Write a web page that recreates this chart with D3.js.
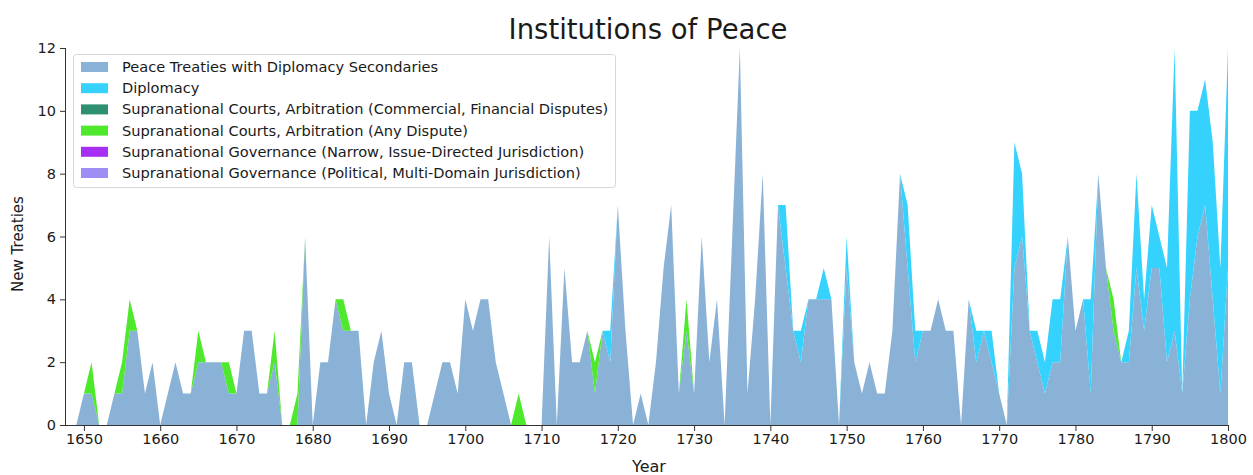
<!DOCTYPE html>
<html>
<head>
<meta charset="utf-8">
<script src="https://cdn.jsdelivr.net/npm/d3@7"></script>
<style>
  html, body { margin: 0; padding: 0; background: #ffffff; }
  svg { display: block; font-family: "DejaVu Sans", sans-serif; }
</style>
</head>
<body>
<svg id="chart" width="1253" height="475"></svg>
<script>
// Institutions of Peace: new treaties per year, 1649-1800, stacked by type.
const firstYear = 1649;

// Peace treaties carrying diplomacy as a secondary institution
const peace = [
  0,
  1, 1, 0, 0, 1, 1, 3, 3, 1, 2,   // 1650s
  0, 1, 2, 1, 1, 2, 2, 2, 2, 1,   // 1660s
  1, 3, 3, 1, 1, 2, 0, 0, 0, 6,   // 1670s
  0, 2, 2, 4, 3, 3, 3, 0, 2, 3,   // 1680s
  1, 0, 2, 2, 0, 0, 1, 2, 2, 1,   // 1690s
  4, 3, 4, 4, 2, 1, 0, 0, 0, 0,   // 1700s
  0, 6, 0, 5, 2, 2, 3, 1, 3, 2,   // 1710s
  7, 3, 0, 1, 0, 2, 5, 7, 1, 3,   // 1720s
  1, 6, 2, 4, 0, 6, 12, 1, 4, 8,  // 1730s
  0, 7, 5, 3, 2, 4, 4, 4, 4, 0,   // 1740s
  5, 2, 1, 2, 1, 1, 3, 8, 5, 2,   // 1750s
  3, 3, 4, 3, 3, 0, 4, 2, 3, 2,   // 1760s
  1, 0, 5, 6, 3, 2, 1, 2, 2, 6,   // 1770s
  3, 4, 1, 8, 5, 3, 2, 2, 5, 3,   // 1780s
  5, 5, 2, 3, 1, 4, 6, 7, 4, 1,   // 1790s
  5
];

const diplomacy = [
  0,
  0, 0, 0, 0, 0, 0, 0, 0, 0, 0,
  0, 0, 0, 0, 0, 0, 0, 0, 0, 0,
  0, 0, 0, 0, 0, 0, 0, 0, 0, 0,
  0, 0, 0, 0, 0, 0, 0, 0, 0, 0,
  0, 0, 0, 0, 0, 0, 0, 0, 0, 0,
  0, 0, 0, 0, 0, 0, 0, 0, 0, 0,
  0, 0, 0, 0, 0, 0, 0, 0, 0, 1,
  0, 0, 0, 0, 0, 0, 0, 0, 0, 0,
  0, 0, 0, 0, 0, 0, 0, 0, 0, 0,
  0, 0, 2, 0, 1, 0, 0, 1, 0, 0,
  1, 0, 0, 0, 0, 0, 0, 0, 2, 1,
  0, 0, 0, 0, 0, 0, 0, 1, 0, 1,
  0, 0, 4, 2, 0, 1, 1, 2, 2, 0,
  0, 0, 3, 0, 0, 0, 0, 1, 3, 1,
  2, 1, 3, 9, 0, 6, 4, 4, 5, 4,
  7
];

const courtsCommercial = [
  0,
  0, 0, 0, 0, 0, 0, 0, 0, 0, 0,
  0, 0, 0, 0, 0, 0, 0, 0, 0, 0,
  0, 0, 0, 0, 0, 0, 0, 0, 0, 0,
  0, 0, 0, 0, 0, 0, 0, 0, 0, 0,
  0, 0, 0, 0, 0, 0, 0, 0, 0, 0,
  0, 0, 0, 0, 0, 0, 0, 0, 0, 0,
  0, 0, 0, 0, 0, 0, 0, 0, 0, 0,
  0, 0, 0, 0, 0, 0, 0, 0, 0, 0,
  0, 0, 0, 0, 0, 0, 0, 0, 0, 0,
  0, 0, 0, 0, 0, 0, 0, 0, 0, 0,
  0, 0, 0, 0, 0, 0, 0, 0, 0, 0,
  0, 0, 0, 0, 0, 0, 0, 0, 0, 0,
  0, 0, 0, 0, 0, 0, 0, 0, 0, 0,
  0, 0, 0, 0, 0, 0, 0, 0, 0, 0,
  0, 0, 0, 0, 0, 0, 0, 0, 0, 0,
  0
];

const courtsAny = [
  0,
  0, 1, 0, 0, 0, 1, 1, 0, 0, 0,
  0, 0, 0, 0, 0, 1, 0, 0, 0, 1,
  0, 0, 0, 0, 0, 1, 0, 0, 1, 0,
  0, 0, 0, 0, 1, 0, 0, 0, 0, 0,
  0, 0, 0, 0, 0, 0, 0, 0, 0, 0,
  0, 0, 0, 0, 0, 0, 0, 1, 0, 0,
  0, 0, 0, 0, 0, 0, 0, 1, 0, 0,
  0, 0, 0, 0, 0, 0, 0, 0, 0, 1,
  0, 0, 0, 0, 0, 0, 0, 0, 0, 0,
  0, 0, 0, 0, 0, 0, 0, 0, 0, 0,
  0, 0, 0, 0, 0, 0, 0, 0, 0, 0,
  0, 0, 0, 0, 0, 0, 0, 0, 0, 0,
  0, 0, 0, 0, 0, 0, 0, 0, 0, 0,
  0, 0, 0, 0, 0, 1, 0, 0, 0, 0,
  0, 0, 0, 0, 0, 0, 0, 0, 0, 0,
  0
];

const governanceNarrow = [
  0,
  0, 0, 0, 0, 0, 0, 0, 0, 0, 0,
  0, 0, 0, 0, 0, 0, 0, 0, 0, 0,
  0, 0, 0, 0, 0, 0, 0, 0, 0, 0,
  0, 0, 0, 0, 0, 0, 0, 0, 0, 0,
  0, 0, 0, 0, 0, 0, 0, 0, 0, 0,
  0, 0, 0, 0, 0, 0, 0, 0, 0, 0,
  0, 0, 0, 0, 0, 0, 0, 0, 0, 0,
  0, 0, 0, 0, 0, 0, 0, 0, 0, 0,
  0, 0, 0, 0, 0, 0, 0, 0, 0, 0,
  0, 0, 0, 0, 0, 0, 0, 0, 0, 0,
  0, 0, 0, 0, 0, 0, 0, 0, 0, 0,
  0, 0, 0, 0, 0, 0, 0, 0, 0, 0,
  0, 0, 0, 0, 0, 0, 0, 0, 0, 0,
  0, 0, 0, 0, 0, 0, 0, 0, 0, 0,
  0, 0, 0, 0, 0, 0, 0, 0, 0, 0,
  0
];

const governancePolitical = [
  0,
  0, 0, 0, 0, 0, 0, 0, 0, 0, 0,
  0, 0, 0, 0, 0, 0, 0, 0, 0, 0,
  0, 0, 0, 0, 0, 0, 0, 0, 0, 0,
  0, 0, 0, 0, 0, 0, 0, 0, 0, 0,
  0, 0, 0, 0, 0, 0, 0, 0, 0, 0,
  0, 0, 0, 0, 0, 0, 0, 0, 0, 0,
  0, 0, 0, 0, 0, 0, 0, 0, 0, 0,
  0, 0, 0, 0, 0, 0, 0, 0, 0, 0,
  0, 0, 0, 0, 0, 0, 0, 0, 0, 0,
  0, 0, 0, 0, 0, 0, 0, 0, 0, 0,
  0, 0, 0, 0, 0, 0, 0, 0, 0, 0,
  0, 0, 0, 0, 0, 0, 0, 0, 0, 0,
  0, 0, 0, 0, 0, 0, 0, 0, 0, 0,
  0, 0, 0, 0, 0, 0, 0, 0, 0, 0,
  0, 0, 0, 0, 0, 0, 0, 0, 0, 0,
  0
];

const seriesNames = [
  "Peace Treaties with Diplomacy Secondaries",
  "Diplomacy",
  "Supranational Courts, Arbitration (Commercial, Financial Disputes)",
  "Supranational Courts, Arbitration (Any Dispute)",
  "Supranational Governance (Narrow, Issue-Directed Jurisdiction)",
  "Supranational Governance (Political, Multi-Domain Jurisdiction)"
];
const seriesValues = [peace, diplomacy, courtsCommercial, courtsAny, governanceNarrow, governancePolitical];
const seriesColors = ["#8ab2d6", "#36d2fe", "#2e8f72", "#4ee82c", "#a52ff2", "#9f8df6"];

const xTicks = [1650, 1660, 1670, 1680, 1690, 1700, 1710, 1720, 1730, 1740, 1750, 1760, 1770, 1780, 1790, 1800];
const yTicks = [0, 2, 4, 6, 8, 10, 12];

// Build one row per year for d3.stack
const table = peace.map((_, i) => {
  const row = { year: firstYear + i };
  seriesNames.forEach((name, k) => { row[name] = seriesValues[k][i]; });
  return row;
});

const svg = d3.select("#chart");
const x = d3.scaleLinear().domain([1647.65, 1800]).range([66, 1228]);
const y = d3.scaleLinear().domain([0, 12]).range([425, 48]);

const stacked = d3.stack().keys(seriesNames)(table);
const area = d3.area()
  .x(d => x(d.data.year))
  .y0(d => y(d[0]))
  .y1(d => y(d[1]))
  .curve(d3.curveLinear);

svg.append("g")
  .selectAll("path")
  .data(stacked)
  .join("path")
  .attr("d", area)
  .attr("fill", (d, i) => seriesColors[i])
  .attr("stroke", "none");

// Axes
const axisColor = "#333333";
const xAxis = svg.append("g")
  .attr("transform", "translate(0,425)")
  .call(d3.axisBottom(x).tickValues(xTicks).tickFormat(d3.format("d")).tickSize(6).tickPadding(3));
const yAxis = svg.append("g")
  .attr("transform", "translate(66,0)")
  .call(d3.axisLeft(y).tickValues(yTicks).tickSize(6).tickPadding(4));

[xAxis, yAxis].forEach(g => {
  g.selectAll("path.domain").attr("stroke", axisColor).attr("stroke-width", 1);
  g.selectAll(".tick line").attr("stroke", axisColor).attr("stroke-width", 1);
  g.selectAll(".tick text")
    .attr("fill", "#1a1a1a")
    .style("font-family", "'DejaVu Sans', sans-serif")
    .style("font-size", "14.5px");
});
// Plain axis lines without the outer tick stubs
xAxis.select("path.domain").attr("d", `M${66},0.5H${1228}`);
yAxis.select("path.domain").attr("d", `M-0.5,${y(12)}V${y(0)}`);

// Title and axis labels
svg.append("text")
  .attr("x", 648).attr("y", 39)
  .attr("text-anchor", "middle")
  .style("font-size", "27.5px")
  .attr("fill", "#1a1a1a")
  .text("Institutions of Peace");

svg.append("text")
  .attr("x", 649).attr("y", 472)
  .attr("text-anchor", "middle")
  .style("font-size", "16px")
  .attr("fill", "#1a1a1a")
  .text("Year");

svg.append("text")
  .attr("transform", "translate(23,244) rotate(-90)")
  .attr("text-anchor", "middle")
  .style("font-size", "15px")
  .attr("fill", "#1a1a1a")
  .text("New Treaties");

// Legend
const legend = svg.append("g").attr("transform", "translate(73,54)");
legend.append("rect")
  .attr("x", 0.5).attr("y", 0.5)
  .attr("width", 542).attr("height", 133)
  .attr("rx", 3)
  .attr("fill", "#ffffff").attr("fill-opacity", 0.8)
  .attr("stroke", "#d6d6d6");

const rows = legend.selectAll("g.row")
  .data(seriesNames)
  .join("g")
  .attr("class", "row")
  .attr("transform", (d, i) => `translate(0,${13 + i * 21.2})`);
rows.append("rect")
  .attr("x", 8).attr("y", -5)
  .attr("width", 27).attr("height", 10)
  .attr("fill", (d, i) => seriesColors[i]);
rows.append("text")
  .attr("x", 49).attr("y", 5)
  .style("font-size", "14.6px")
  .attr("fill", "#1a1a1a")
  .text(d => d);
</script>
</body>
</html>
